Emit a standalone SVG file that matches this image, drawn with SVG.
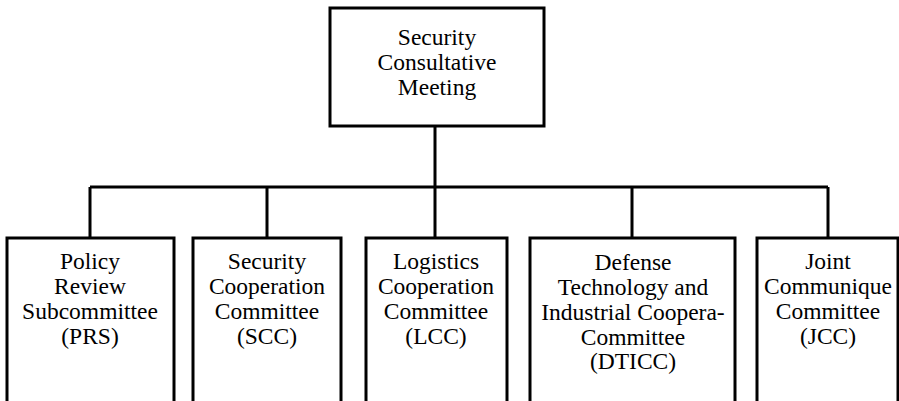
<svg xmlns="http://www.w3.org/2000/svg" width="899" height="401" viewBox="0 0 899 401">
<style>
.box{fill:#fff;stroke:#000;stroke-width:3}
.ln{fill:none;stroke:#000;stroke-width:3}
.t{font-family:'Liberation Serif','DejaVu Serif',serif;font-size:23.5px;fill:#000;text-anchor:middle}
</style>
<rect width="899" height="401" fill="#fff"/>
<g id="connectors">
<path class="ln" d="M435 126V187M90 187H828M90 187V238M267 187V238M435 187V238M632 187V238M828 187V238"/>
</g>
<g id="scm">
<rect class="box" x="330" y="8" width="214" height="118"/>
<text class="t" x="437" y="45">Security</text>
<text class="t" x="437" y="70">Consultative</text>
<text class="t" x="437" y="95">Meeting</text>
</g>
<g id="prs">
<rect class="box" x="7" y="238" width="167" height="175"/>
<text class="t" x="90" y="269">Policy</text>
<text class="t" x="90" y="294">Review</text>
<text class="t" x="90" y="319">Subcommittee</text>
<text class="t" x="90" y="344">(PRS)</text>
</g>
<g id="scc">
<rect class="box" x="193" y="238" width="148" height="175"/>
<text class="t" x="267" y="269">Security</text>
<text class="t" x="267" y="294">Cooperation</text>
<text class="t" x="267" y="319">Committee</text>
<text class="t" x="267" y="344">(SCC)</text>
</g>
<g id="lcc">
<rect class="box" x="366" y="238" width="141" height="175"/>
<text class="t" x="436" y="269">Logistics</text>
<text class="t" x="436" y="294">Cooperation</text>
<text class="t" x="436" y="319">Committee</text>
<text class="t" x="436" y="344">(LCC)</text>
</g>
<g id="dticc">
<rect class="box" x="530" y="238" width="205" height="175"/>
<text class="t" x="633" y="270">Defense</text>
<text class="t" x="633" y="295">Technology and</text>
<text class="t" x="633" y="320">Industrial Coopera-</text>
<text class="t" x="633" y="345">Committee</text>
<text class="t" x="633" y="369">(DTICC)</text>
</g>
<g id="jcc">
<rect class="box" x="757" y="238" width="141" height="175"/>
<text class="t" x="828" y="269">Joint</text>
<text class="t" x="828" y="294">Communique</text>
<text class="t" x="828" y="319">Committee</text>
<text class="t" x="828" y="344">(JCC)</text>
</g>
</svg>
